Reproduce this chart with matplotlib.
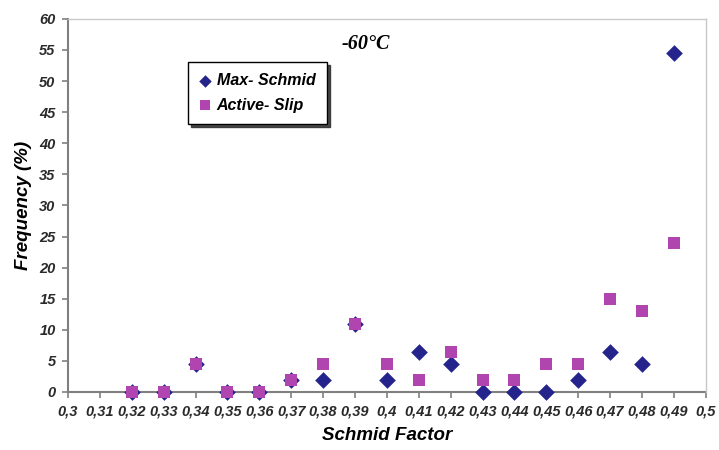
import matplotlib
matplotlib.use("Agg")
import matplotlib.pyplot as plt

# Schmid factor bins
schmid = [0.32, 0.33, 0.34, 0.35, 0.36, 0.37, 0.38, 0.39, 0.40,
          0.41, 0.42, 0.43, 0.44, 0.45, 0.46, 0.47, 0.48, 0.49]
max_schmid = [0, 0, 4.5, 0, 0, 2, 2, 11, 2,
              6.5, 4.5, 0, 0, 0, 2, 6.5, 4.5, 54.5]
active_slip = [0, 0, 4.5, 0, 0, 2, 4.5, 11, 4.5,
               2, 6.5, 2, 2, 4.5, 4.5, 15, 13, 24]

x_ticks = [0.30, 0.31, 0.32, 0.33, 0.34, 0.35, 0.36, 0.37, 0.38, 0.39, 0.40,
           0.41, 0.42, 0.43, 0.44, 0.45, 0.46, 0.47, 0.48, 0.49, 0.50]
x_tick_labels = ["0,3", "0,31", "0,32", "0,33", "0,34", "0,35", "0,36", "0,37",
                 "0,38", "0,39", "0,4", "0,41", "0,42", "0,43", "0,44", "0,45",
                 "0,46", "0,47", "0,48", "0,49", "0,5"]
y_ticks = [0, 5, 10, 15, 20, 25, 30, 35, 40, 45, 50, 55, 60]

navy = "#24248c"
magenta = "#b045b0"
sans = "Liberation Sans"

fig = plt.figure(figsize=(7.19, 4.5), dpi=100)
ax = fig.add_axes([0.0946, 0.129, 0.887, 0.829])

ax.scatter(schmid, max_schmid, marker="D", s=72, color=navy,
           label="Max- Schmid", zorder=3, linewidths=0, clip_on=False)
ax.scatter(schmid, active_slip, marker="s", s=86, color=magenta,
           label="Active- Slip", zorder=4, linewidths=0, clip_on=False)

ax.set_xlim(0.30, 0.50)
ax.set_ylim(0, 60)
ax.set_xticks(x_ticks)
ax.set_xticklabels(x_tick_labels)
ax.set_yticks(y_ticks)

for lbl in ax.get_xticklabels() + ax.get_yticklabels():
    lbl.set_fontfamily(sans)
    lbl.set_fontstyle("italic")
    lbl.set_fontweight("bold")
    lbl.set_fontsize(10.5)
    lbl.set_color("#2a2a2a")

ax.tick_params(axis="both", direction="out", length=4, width=1.2,
               color="#808080", pad=5)

for side in ("left", "bottom"):
    ax.spines[side].set_color("#808080")
    ax.spines[side].set_linewidth(1.5)
    ax.spines[side].set_zorder(2)
for side in ("top", "right"):
    ax.spines[side].set_color("#c8c8c8")
    ax.spines[side].set_linewidth(1.0)

ax.set_xlabel("Schmid Factor", fontfamily=sans, fontstyle="italic",
              fontweight="bold", fontsize=13.5, labelpad=6)
ax.set_ylabel("Frequency (%)", fontfamily=sans, fontstyle="italic",
              fontweight="bold", fontsize=13.5, labelpad=5)

ax.text(0.3934, 56, "-60°C", fontfamily="Liberation Serif", fontstyle="italic",
        fontweight="bold", fontsize=14.5, ha="center", va="center")

leg = ax.legend(loc="upper left", bbox_to_anchor=(0.188, 0.885),
                frameon=True, fancybox=False,
                shadow={"color": "#2a2a2a", "alpha": 0.85, "ox": 2.5, "oy": -2.5},
                handletextpad=0.3, handlelength=0.8, borderpad=0.7,
                labelspacing=0.6, borderaxespad=0, markerscale=0.75,
                prop={"family": sans, "style": "italic", "weight": "bold",
                      "size": 11.5})
leg.get_frame().set_edgecolor("#000000")
leg.get_frame().set_linewidth(1.0)
leg.set_zorder(6)

fig.savefig("out.png", dpi=100)
